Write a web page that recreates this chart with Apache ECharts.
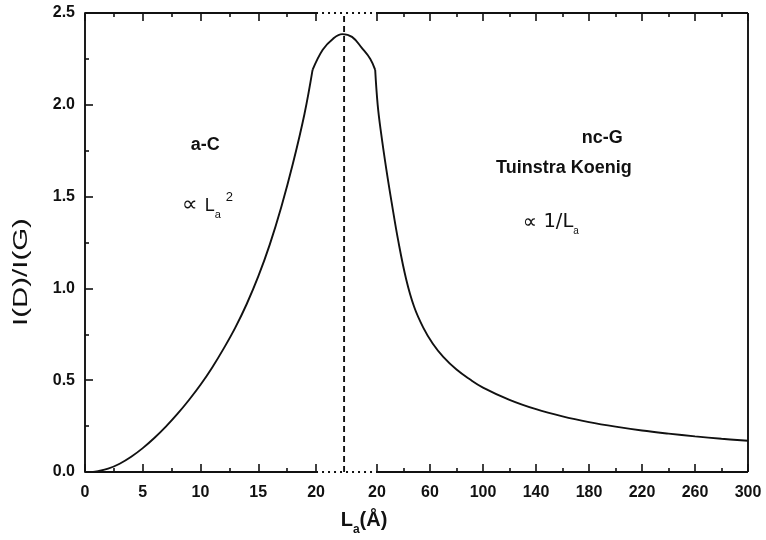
<!DOCTYPE html>
<html>
<head>
<meta charset="utf-8">
<script src="https://cdn.jsdelivr.net/npm/echarts@6/dist/echarts.min.js"></script>
<style>
  html, body { margin: 0; padding: 0; background: #fff; }
  #chart { width: 766px; height: 540px; }
</style>
</head>
<body>
<div id="chart"></div>
<script>
// a-C branch: La (Å) on the linear 0–20 scale, and I(D)/I(G)
const aC_La    = [0.7, 1, 2, 3, 4, 5, 6, 7, 8, 9, 10, 11, 12, 13, 14, 15, 16, 17, 18, 19, 19.7];
const aC_ratio = [0, 0.003, 0.018, 0.045, 0.083, 0.13, 0.185, 0.247, 0.316, 0.392, 0.475, 0.568, 0.672, 0.785, 0.915, 1.065, 1.24, 1.445, 1.68, 1.95, 2.19];

// maximum inside the axis break (position given as fraction of the break width)
const peak_t     = [0.11, 0.28, 0.43, 0.59, 0.75, 0.89, 0.97];
const peak_ratio = [2.30, 2.36, 2.385, 2.37, 2.31, 2.25, 2.19];
const peakMarker_t = 0.46;

// nc-G branch (Tuinstra–Koenig): La (Å) on the 20–300 scale
const ncG_La    = [20.5, 23, 27, 31, 36, 42, 48, 55, 62, 70, 80, 90, 100, 120, 140, 160, 180, 200, 220, 240, 260, 280, 300];
const ncG_ratio = [2.0, 1.85, 1.65, 1.47, 1.26, 1.05, 0.9, 0.785, 0.7, 0.627, 0.558, 0.505, 0.46, 0.393, 0.342, 0.303, 0.272, 0.247, 0.226, 0.209, 0.194, 0.181, 0.17];

// tick values
const leftTicks  = [0, 5, 10, 15, 20];
const leftMinor  = [2.5, 7.5, 12.5, 17.5];
const rightTicks = [20, 60, 100, 140, 180, 220, 260, 300];
const rightMinor = [40, 80, 120, 160, 200, 240, 280];
const yMax = 2.5;

// broken x scale: 0–20 linear, a break, then 20–300 compressed
const LEFT_MAX = 20;
const GAP = 5.28;
const RIGHT_SCALE = 0.1147;
const uL = la => la;
const uB = t => LEFT_MAX + t * GAP;
const uR = la => LEFT_MAX + GAP + (la - 20) * RIGHT_SCALE;
const X_MAX = uR(300);

const key = v => v.toFixed(4);
const labelMap = {};
leftTicks.forEach(v => { labelMap[key(uL(v))] = String(v); });
rightTicks.forEach(v => { labelMap[key(uR(v))] = String(v); });
const majorU = leftTicks.map(uL).concat(rightTicks.map(uR));
const minorU = leftMinor.map(uL).concat(rightMinor.map(uR));

const aCData   = aC_La.map((x, i) => [uL(x), aC_ratio[i]]);
const peakData = peak_t.map((t, i) => [uB(t), peak_ratio[i]]);
const ncGData  = ncG_La.map((x, i) => [uR(x), ncG_ratio[i]]);
// the branches meet at sharp corners on each side of the maximum
peakData.unshift(aCData[aCData.length - 1]);
ncGData.unshift(peakData[peakData.length - 1]);

const FONT = '"Liberation Sans", Arial, sans-serif';
const INK = '#111';

function xAxisDef(position, values, len, labels) {
  return {
    type: 'value', min: 0, max: X_MAX, position: position,
    axisLine: { show: false },
    splitLine: { show: false },
    axisTick: { show: true, inside: true, length: len, customValues: values,
                lineStyle: { color: INK, width: 1.6 } },
    axisLabel: labels ? {
      show: true, customValues: values, margin: 13,
      fontFamily: FONT, fontWeight: 'bold', fontSize: 16, color: INK,
      formatter: v => labelMap[key(v)] || ''
    } : { show: false }
  };
}

function frameSeg(a, b, dash) {
  return {
    type: 'line', data: [a, b], symbol: 'none', silent: true, clip: false,
    animation: false, z: 5,
    lineStyle: { color: INK, width: 1.9, type: dash || 'solid' }
  };
}

function curveSeries(data) {
  return {
    type: 'line', data: data, symbol: 'none', smooth: 0.4, z: 4,
    lineStyle: { color: INK, width: 1.9 }
  };
}

const chart = echarts.init(document.getElementById('chart'), null, { renderer: 'canvas' });

chart.setOption({
  animation: false,
  backgroundColor: '#fff',
  grid: { left: 85, right: 18, top: 13, bottom: 68 },
  xAxis: [
    xAxisDef('bottom', majorU, 8, true),
    xAxisDef('bottom', minorU, 4, false),
    xAxisDef('top', majorU, 8, false),
    xAxisDef('top', minorU, 4, false)
  ],
  yAxis: {
    type: 'value', min: 0, max: yMax, interval: 0.5,
    axisLine: { show: true, lineStyle: { color: INK, width: 1.9 } },
    axisTick: { show: true, inside: true, length: 8, lineStyle: { color: INK, width: 1.6 } },
    minorTick: { show: true, splitNumber: 2, length: 4, lineStyle: { color: INK, width: 1.6 } },
    splitLine: { show: false },
    axisLabel: { margin: 10, fontFamily: FONT, fontWeight: 'bold', fontSize: 16, color: INK,
                 formatter: v => v.toFixed(1) }
  },
  series: [
    curveSeries(aCData),
    curveSeries(peakData),
    curveSeries(ncGData),
    // axis frame with dotted break
    frameSeg([0, 0], [uL(LEFT_MAX), 0]),
    frameSeg([uL(LEFT_MAX), 0], [uR(20), 0], [2, 4]),
    frameSeg([uR(20), 0], [X_MAX, 0]),
    frameSeg([0, yMax], [uL(LEFT_MAX), yMax]),
    frameSeg([uL(LEFT_MAX), yMax], [uR(20), yMax], [2, 4]),
    frameSeg([uR(20), yMax], [X_MAX, yMax]),
    frameSeg([X_MAX, 0], [X_MAX, yMax]),
    // position of the maximum
    {
      type: 'line', data: [[uB(peakMarker_t), 0], [uB(peakMarker_t), yMax]],
      symbol: 'none', silent: true, z: 3,
      lineStyle: { color: INK, width: 1.9, type: [6, 4] }
    }
  ]
});

const px = (u, v) => chart.convertToPixel({ xAxisIndex: 0, yAxisIndex: 0 }, [u, v]);

const boldStyle = { fontFamily: FONT, fontWeight: 'bold', fontSize: 18, fill: INK };

function label(pos, text, style, align) {
  return {
    type: 'text', x: pos[0], y: pos[1],
    style: Object.assign({ text: text, align: align || 'center', verticalAlign: 'middle' }, style)
  };
}

const pA   = px(uL(10.4), 1.78);
const pA2  = px(uL(8.4), 1.45);
const pN   = px(uR(190), 1.82);
const pTK  = px(uR(161), 1.655);
const pN2  = px(uR(130), 1.36);

chart.setOption({
  graphic: [
    label(pA, 'a-C', boldStyle),
    {
      type: 'text', x: pA2[0], y: pA2[1],
      style: {
        text: '{q|∝ }{m|L}{s|a}{p|2}', align: 'left', verticalAlign: 'middle',
        rich: {
          q: { fontFamily: '"DejaVu Sans", sans-serif', fontSize: 22, fill: INK, lineHeight: 30 },
          m: { fontFamily: FONT, fontSize: 18, fill: INK, lineHeight: 30 },
          s: { fontFamily: FONT, fontSize: 11, fill: INK, verticalAlign: 'bottom', padding: [0, 5, 0, 0] },
          p: { fontFamily: FONT, fontSize: 13, fill: INK, verticalAlign: 'top' }
        }
      }
    },
    label(pN, 'nc-G', boldStyle),
    label(pTK, 'Tuinstra Koenig', boldStyle),
    {
      type: 'text', x: pN2[0], y: pN2[1],
      style: {
        text: '{q|∝ }{m|1/L}{s|a}', align: 'left', verticalAlign: 'middle',
        rich: {
          q: { fontFamily: '"DejaVu Sans", sans-serif', fontSize: 20, fill: INK, lineHeight: 28 },
          m: { fontFamily: '"DejaVu Sans", sans-serif', fontSize: 19.5, fill: INK, lineHeight: 28 },
          s: { fontFamily: FONT, fontSize: 10, fill: INK, verticalAlign: 'bottom' }
        }
      }
    },
    {
      type: 'text', x: 21, y: 272, rotation: Math.PI / 2, scaleX: 1.4,
      style: { text: 'I(D)/I(G)', align: 'center', verticalAlign: 'middle',
               fontFamily: FONT, fontSize: 21, fill: INK }
    },
    {
      type: 'text', x: 364, y: 520,
      style: {
        text: '{m|L}{s|a}{m|(Å)}', align: 'center', verticalAlign: 'middle',
        rich: {
          m: { fontFamily: FONT, fontWeight: 'bold', fontSize: 20, fill: INK, lineHeight: 32 },
          s: { fontFamily: FONT, fontWeight: 'bold', fontSize: 12, fill: INK, verticalAlign: 'bottom' }
        }
      }
    }
  ]
});
</script>
</body>
</html>
